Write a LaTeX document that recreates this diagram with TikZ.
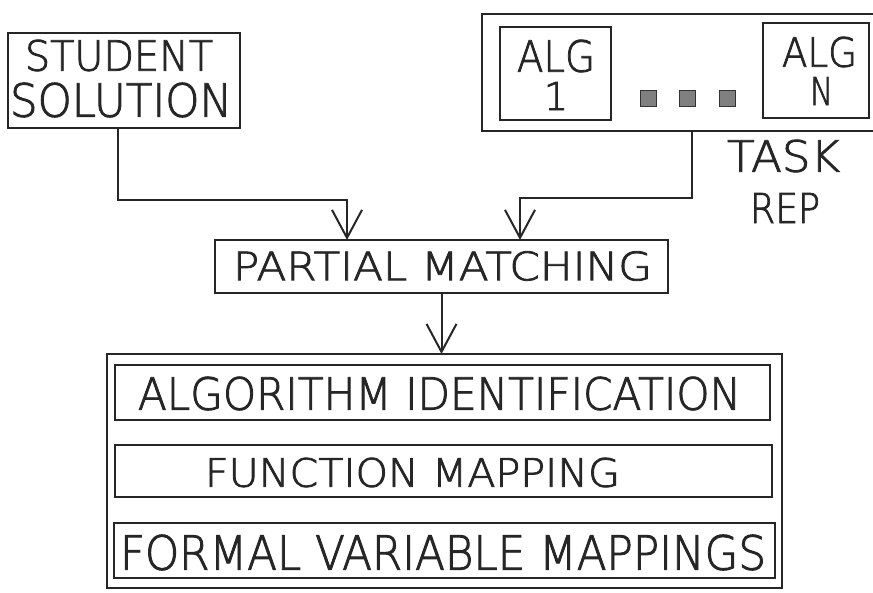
\documentclass[tikz,border=0pt]{standalone}
\usepackage{fontspec}
\newfontfamily\plotfont[FakeBold=2]{DejaVu Sans ExtraLight}
\usetikzlibrary{arrows.meta,calc}
\newcommand\szbox[3]{\resizebox{#1pt}{#2pt}{#3}}
\begin{document}
\begin{tikzpicture}[x=1pt,y=-1pt,
  frame/.style={draw=black!85, line width=2pt, inner sep=0pt, outer sep=0pt, rectangle},
  lbl/.style={inner sep=0pt, outer sep=0pt, text=black!85, font=\plotfont},
  conn/.style={draw=black!85, line width=2pt, -{Straight Barb[length=28pt,width=30pt]}},
  sq/.style={draw=black!80, fill=black!50, line width=1pt, minimum size=16pt, inner sep=0pt, outer sep=0pt, rectangle}]
\clip (0,0) rectangle (873,592);
\fill[white] (0,0) rectangle (873,592);
% boxes
\node[frame, minimum width=232pt, minimum height=95pt] (stud) at (124,80.5) {};
\node[frame, minimum width=403pt, minimum height=117pt] (task) at (683.5,72.5) {};
\node[frame, minimum width=111pt, minimum height=93pt] (alg1) at (555.5,73.5) {};
\node[frame, minimum width=106pt, minimum height=95pt] (algn) at (816,70.5) {};
\node[sq] (d1) at (648,98) {};
\node[sq] (d2) at (687,98) {};
\node[sq] (d3) at (727,98) {};
\node[frame, minimum width=453pt, minimum height=53pt] (pm) at (441.5,266.5) {};
\node[frame, minimum width=675pt, minimum height=234pt] (big) at (444.5,471) {};
\node[frame, minimum width=655pt, minimum height=55pt] (b1) at (442.5,392.5) {};
\node[frame, minimum width=657pt, minimum height=52pt] (b2) at (443.5,471) {};
\node[frame, minimum width=661pt, minimum height=55pt] (b3) at (444.5,550.5) {};
% labels
\node[lbl] (studt1) at (119,55.5) {\szbox{188}{31}{STUDENT}};
\node[lbl] (studt2) at (121,100) {\szbox{222}{34}{SOLUTION}};
\node[lbl] (alg1t1) at (556,56) {\szbox{78}{32}{ALG}};
\node[lbl] (alg1t2) at (556,96) {\resizebox{!}{28pt}{1}};
\node[lbl] (algnt1) at (819.5,52) {\szbox{75}{30}{ALG}};
\node[lbl] (algnt2) at (821.5,91) {\szbox{23}{28}{N}};
\node[lbl] (taskt) at (783.5,156) {\szbox{113}{32}{TASK}};
\node[lbl] (rept) at (785,208) {\szbox{70}{30}{REP}};
\node[lbl] (pmt) at (442.5,266) {\szbox{419}{29}{PARTIAL MATCHING}};
\node[lbl] (b1t) at (439.5,393.5) {\szbox{603}{33}{ALGORITHM IDENTIFICATION}};
\node[lbl] (b2t) at (412.5,472.5) {\szbox{415}{29}{FUNCTION MAPPING}};
\node[lbl] (b3t) at (443,552.5) {\szbox{646}{35}{FORMAL VARIABLE MAPPINGS}};
% connectors
\draw[conn] ($(stud.south)+(-6,0)$) |- ($(pm.north)+(-94.5,-40)$) -- ($(pm.north)+(-94.5,0)$);
\draw[conn] ($(task.south)+(8.5,0)$) |- ($(pm.north)+(78.5,-42)$) -- ($(pm.north)+(78.5,0)$);
\draw[conn] (pm.south) -- (pm.south |- big.north);
\end{tikzpicture}
\end{document}
